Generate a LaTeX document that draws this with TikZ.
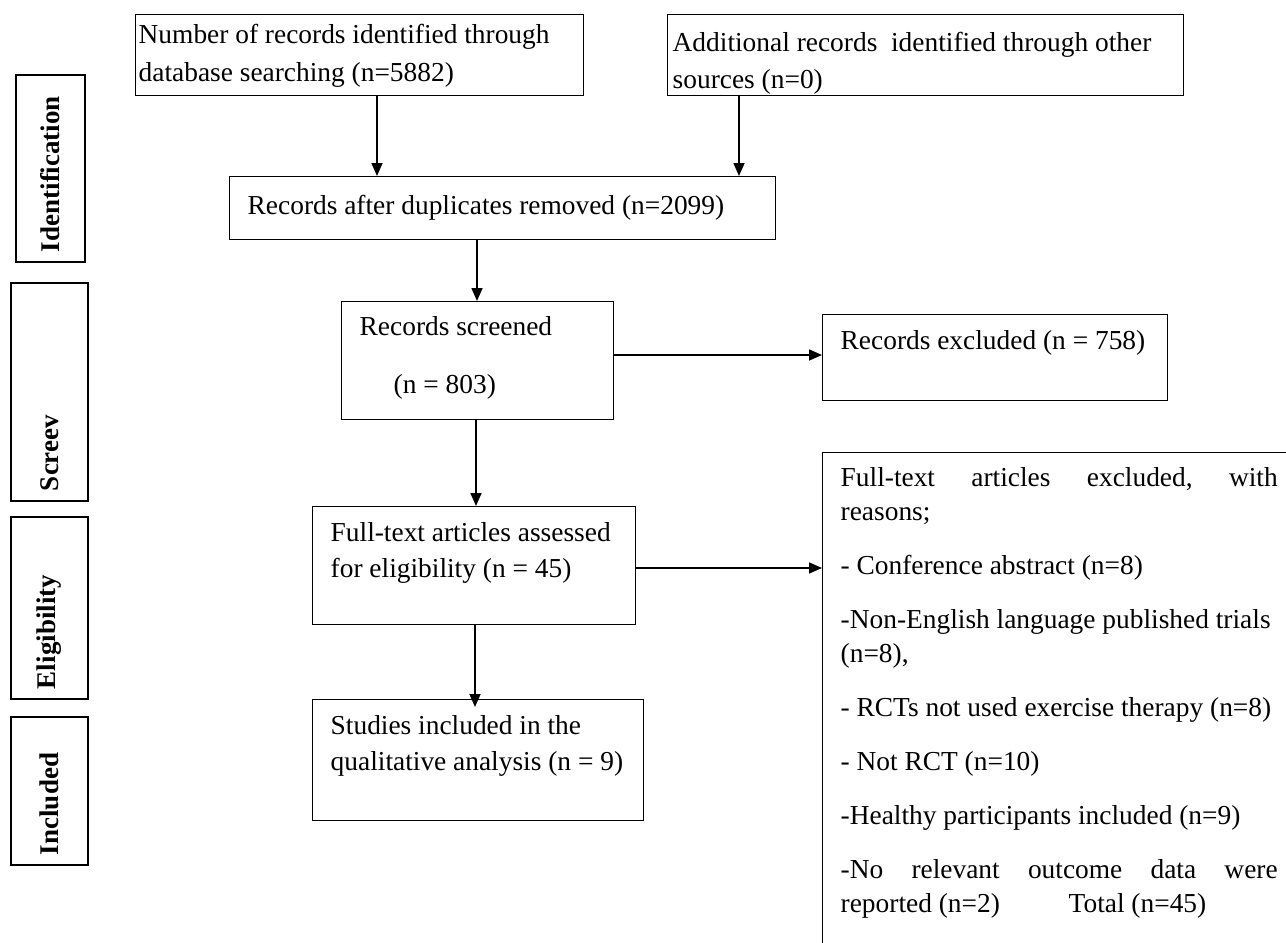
\documentclass[tikz,border=0pt]{standalone}
\usepackage{fontspec}
\setmainfont{Liberation Serif}
\usetikzlibrary{arrows.meta,calc}
\newcommand\bxtext[6]{\parbox[c][#2][t]{#1}{\raggedright\leftskip=#3\relax\parindent=0pt\baselineskip=#5\relax\lineskiplimit=-100pt\lineskip=0pt\rule{0pt}{#4}\ignorespaces#6}}
\newcommand\sidetext[3]{\parbox[c][#2][c]{#1}{\noindent\hspace*{10pt}#3}}
\tikzset{
  box/.style={draw, line width=1.4pt, inner sep=0pt, anchor=north west, font=\fontsize{27.4}{33}\selectfont},
  sidebox/.style={draw, line width=1.4pt, inner sep=0pt, rotate=90, font=\fontsize{27}{32}\selectfont\bfseries},
  arr/.style={line width=1.6pt, -{Triangle[length=13pt,width=11pt]}}
}
\begin{document}
\begin{tikzpicture}[x=1pt,y=-1pt]
\useasboundingbox (0,0) rectangle (1286,943);
\clip (0,0) rectangle (1286,943);
\fill[white] (0,0) rectangle (1286,943);

% side labels
\node[sidebox] (sid) at (50.5,168.5) {\sidetext{187pt}{69pt}{Identification}};
\node[sidebox] (sscr) at (49.5,392) {\sidetext{218pt}{77pt}{Screev}};
\node[sidebox] (seli) at (49.5,608) {\sidetext{182pt}{77pt}{Eligibility}};
\node[sidebox] (sinc) at (49.5,791) {\sidetext{148pt}{77pt}{Included}};

% main boxes
\node[box] (A) at (135,14) {\bxtext{448pt}{81pt}{3pt}{29pt}{38pt}{Number of records identified through\\database searching (n=5882)}};
\node[box] (B) at (667,14) {\bxtext{516pt}{81pt}{5pt}{37pt}{37pt}{Additional records\ \ identified through other\\sources (n=0)}};
\node[box] (C) at (229,176) {\bxtext{546pt}{63pt}{18pt}{38pt}{34pt}{Records after duplicates removed (n=2099)}};
\node[box] (D) at (341,301) {\bxtext{272pt}{118pt}{18pt}{34pt}{34pt}{Records screened\\[24pt]\hspace*{34pt}(n = 803)}};
\node[box] (E) at (312,506) {\bxtext{323pt}{118pt}{18pt}{35pt}{36pt}{Full-text articles assessed\\for eligibility (n = 45)}};
\node[box] (F) at (312,699) {\bxtext{331pt}{121pt}{18pt}{35pt}{36pt}{Studies included in the\\qualitative analysis (n = 9)}};
\node[box] (G) at (822,314) {\bxtext{345pt}{86pt}{18pt}{35pt}{34pt}{Records excluded (n = 758)}};
\node[box] (H) at (822,452) {\bxtext{478pt}{508pt}{18pt}{34pt}{34pt}{\rightskip=23pt plus 1fil\relax
Full-text\hfill articles\hfill excluded,\hfill with\\
reasons;\\[20pt]
\mbox{- Conference abstract (n=8)}\\[20pt]
\mbox{-Non-English language published trials}\\
(n=8),\\[20pt]
\mbox{- RCTs not used exercise therapy (n=8)}\\[20pt]
\mbox{- Not RCT (n=10)}\\[20pt]
\mbox{-Healthy participants included (n=9)}\\[20pt]
-No\hfill relevant\hfill outcome\hfill data\hfill were\\
\makebox[228pt][l]{reported (n=2)}Total (n=45)}};

% connector guides
\coordinate (xA) at (377,0);
\coordinate (xB) at (739,0);
\coordinate (xC) at (477,0);
\coordinate (xD) at (476,0);
\coordinate (xE) at (475,0);
\coordinate (yD) at (0,355);
\coordinate (yE) at (0,568);

\draw[arr] (A.south -| xA) -- (C.north -| xA);
\draw[arr] (B.south -| xB) -- (C.north -| xB);
\draw[arr] (C.south -| xC) -- (D.north -| xC);
\draw[arr] (D.south -| xD) -- (E.north -| xD);
\draw[arr] (E.south -| xE) -- ($(F.north -| xE)+(0,8)$);
\draw[arr] (D.east |- yD) -- (G.west |- yD);
\draw[arr] (E.east |- yE) -- (H.west |- yE);
\end{tikzpicture}
\end{document}
